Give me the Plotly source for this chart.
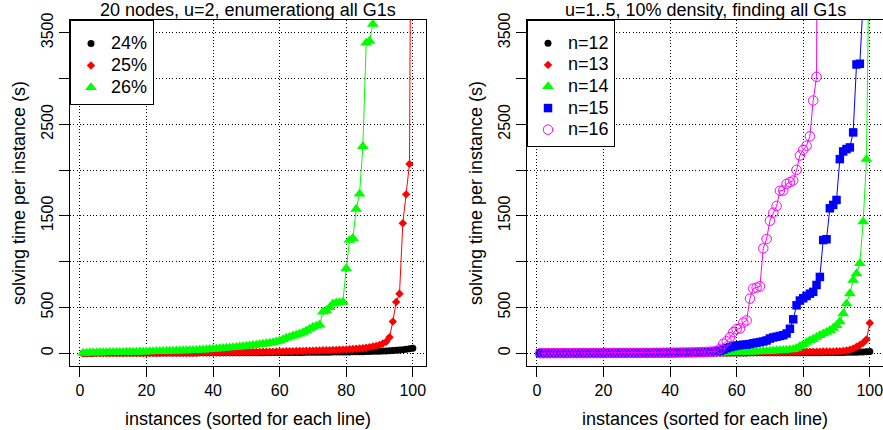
import plotly.graph_objects as go

# ---------------- data ----------------
instances = list(range(1, 101))

# left panel: 20 nodes, u=2
pct24 = [0.4, 0.5, 0.6, 0.6, 0.7, 0.8, 0.8, 0.9, 1.0, 1.0,
         1.1, 1.2, 1.2, 1.3, 1.4, 1.5, 1.5, 1.6, 1.7, 1.8,
         1.9, 2.0, 2.1, 2.2, 2.3, 2.4, 2.5, 2.6, 2.7, 2.8,
         2.9, 3.0, 3.1, 3.2, 3.3, 3.4, 3.5, 3.6, 3.7, 3.8,
         3.9, 4.0, 4.1, 4.2, 4.3, 4.4, 4.5, 4.6, 4.8, 5.0,
         5.2, 5.4, 5.6, 5.8, 6.0, 6.2, 6.4, 6.6, 6.8, 7.0,
         7.2, 7.4, 7.6, 7.8, 8.0, 8.3, 8.6, 8.9, 9.2, 9.5,
         9.8, 10.1, 10.4, 10.8, 11.2, 11.6, 12, 12.5, 13, 13.5,
         14, 14.5, 15, 16, 17, 18, 19, 20, 21, 22,
         23, 25, 27, 29, 31, 34, 38, 43, 48, 55]

pct25 = [0.3, 0.4, 0.5, 0.5, 0.6, 0.7, 0.8, 0.9, 1.0, 1.1,
         1.2, 1.3, 1.4, 1.5, 1.6, 1.7, 1.8, 1.9, 2.0, 2.2,
         2.4, 2.6, 2.8, 3.0, 3.2, 3.4, 3.6, 3.8, 4.0, 4.3,
         4.6, 4.9, 5.2, 5.5, 5.8, 6.1, 6.4, 6.8, 7.2, 7.6,
         8.0, 8.4, 8.8, 9.2, 9.6, 10, 10.5, 11, 11.5, 12,
         12.5, 13, 13.6, 14.2, 14.8, 15.4, 16, 16.7, 17.4, 18,
         19, 20, 21, 22, 23, 24, 25, 26, 27, 28,
         29, 30, 31, 32, 33, 34, 35, 37, 39, 41,
         43, 45, 48, 51, 55, 60, 66, 73, 80, 90,
         105, 125, 175, 345, 560, 650, 1420, 1735, 2068, 9000]

pct26 = [2, 3, 4, 5, 6, 7, 7.5, 8, 9, 10,
         10.5, 11, 11.5, 12, 12.5, 13, 14, 15, 16, 17,
         18, 19, 20, 21, 22, 23, 24, 25, 26, 27,
         28, 29, 30, 31, 33, 35, 37, 39, 42, 45,
         48, 51, 54, 57, 60, 63, 66, 70, 74, 78,
         82, 86, 90, 95, 100, 105, 110, 118, 126, 135,
         150, 165, 178, 190, 200, 212, 225, 245, 265, 285,
         298, 310, 450, 465, 500, 540, 550, 555, 560, 925,
         1235, 1255, 1575, 1740, 2260, 3390, 3410, 3595]

# right panel: u=1..5, 10% density
n12 = [0.1, 0.1, 0.1, 0.1, 0.2, 0.2, 0.2, 0.2, 0.2, 0.3,
       0.3, 0.3, 0.3, 0.3, 0.4, 0.4, 0.4, 0.4, 0.5, 0.5,
       0.5, 0.5, 0.6, 0.6, 0.6, 0.7, 0.7, 0.7, 0.8, 0.8,
       0.8, 0.9, 0.9, 1.0, 1.0, 1.1, 1.1, 1.2, 1.2, 1.3,
       1.3, 1.4, 1.4, 1.5, 1.5, 1.6, 1.7, 1.8, 1.9, 2.0,
       2.1, 2.2, 2.3, 2.4, 2.5, 2.6, 2.7, 2.8, 2.9, 3.0,
       3.1, 3.2, 3.3, 3.4, 3.5, 3.6, 3.7, 3.8, 3.9, 4.0,
       4.1, 4.2, 4.3, 4.4, 4.5, 4.6, 4.7, 4.8, 4.9, 5.0,
       5.2, 5.4, 5.6, 5.8, 6.0, 6.2, 6.5, 6.8, 7.1, 7.5,
       8, 8.5, 9, 9.5, 10, 11, 12, 13, 15, 18]

n13 = [0.2, 0.2, 0.3, 0.3, 0.3, 0.4, 0.4, 0.4, 0.5, 0.5,
       0.6, 0.6, 0.7, 0.7, 0.8, 0.8, 0.9, 0.9, 1.0, 1.0,
       1.1, 1.2, 1.2, 1.3, 1.4, 1.4, 1.5, 1.6, 1.6, 1.7,
       1.8, 1.9, 2.0, 2.1, 2.2, 2.3, 2.4, 2.5, 2.6, 2.7,
       2.8, 2.9, 3.0, 3.2, 3.4, 3.6, 3.8, 4.0, 4.2, 4.4,
       4.6, 4.8, 5.0, 5.2, 5.4, 5.6, 5.8, 6.0, 6.3, 6.6,
       6.9, 7.2, 7.5, 7.8, 8.1, 8.4, 8.7, 9.0, 9.4, 9.8,
       10.2, 10.6, 11, 11.5, 12, 12.5, 13, 13.5, 14, 14.5,
       15, 15.5, 16, 16.5, 17, 17.5, 18, 18.5, 19, 20,
       22, 25, 30, 38, 50, 70, 90, 115, 150, 330]

n14 = [0.3, 0.3, 0.4, 0.4, 0.5, 0.5, 0.6, 0.6, 0.7, 0.7,
       0.8, 0.8, 0.9, 0.9, 1.0, 1.0, 1.1, 1.1, 1.2, 1.2,
       1.3, 1.3, 1.4, 1.4, 1.5, 1.5, 1.6, 1.7, 1.8, 1.9,
       2.0, 2.1, 2.2, 2.3, 2.4, 2.5, 2.6, 2.7, 2.8, 2.9,
       3.0, 3.2, 3.4, 3.6, 3.8, 4.0, 4.2, 4.4, 4.7, 5.0,
       5.3, 5.6, 6.0, 6.5, 7, 7.5, 8, 9, 10, 11,
       12, 13, 14, 15, 16, 17, 18, 20, 22, 24,
       26, 28, 30, 32, 35, 38, 42, 55, 75, 95,
       120, 139, 155, 175, 195, 213, 230, 249, 275, 304,
       345, 432, 541, 651, 797, 870, 980, 1437, 2120, 5000]

n15 = [0.1, 0.2, 0.2, 0.3, 0.3, 0.4, 0.4, 0.5, 0.5, 0.6,
       0.6, 0.7, 0.7, 0.8, 0.8, 0.9, 0.9, 1.0, 1.0, 1.1,
       1.2, 1.3, 1.4, 1.5, 1.6, 1.7, 1.8, 1.9, 2.0, 2.1,
       2.2, 2.3, 2.4, 2.5, 2.7, 2.9, 3.1, 3.3, 3.5, 3.7,
       4.0, 4.3, 4.6, 5.0, 5.5, 6.0, 6.5, 7.0, 8.0, 9.0,
       10, 12, 15, 20, 28, 40, 55, 66, 75, 84,
       88, 92, 95, 100, 108, 115, 121, 128, 139, 160,
       172, 180, 188, 196, 215, 267, 370, 523, 575, 600,
       625, 650, 670, 745, 833, 1236, 1245, 1583, 1620, 1674,
       2120, 2204, 2230, 2248, 2412, 3154, 3162, 3850]

n16 = [0.2, 0.3, 0.3, 0.4, 0.4, 0.5, 0.5, 0.6, 0.6, 0.7,
       0.8, 0.9, 1.0, 1.1, 1.2, 1.3, 1.4, 1.5, 1.6, 1.7,
       1.8, 1.9, 2.0, 2.1, 2.2, 2.3, 2.4, 2.5, 2.6, 2.7,
       2.8, 3.0, 3.2, 3.4, 3.6, 3.8, 4.0, 4.3, 4.6, 5.0,
       5.4, 5.8, 6.2, 6.7, 7.2, 7.8, 8.5, 9.5, 11, 12.5,
       14, 16, 18, 23, 48, 103, 130, 175, 230, 262,
       270, 335, 358, 596, 706, 717, 731, 1145, 1247, 1447,
       1535, 1609, 1775, 1777, 1850, 1868, 1886, 2003, 2160, 2222,
       2266, 2369, 2760, 3019, 12000]

left_names = ["24%", "25%", "26%"]
right_names = ["n=12", "n=13", "n=14", "n=15", "n=16"]

x_ticks = [0, 20, 40, 60, 80, 100]
y_ticks = [0, 500, 1000, 1500, 2000, 2500, 3000, 3500]
y_ticktext = ["0", "500", "", "1500", "", "2500", "", "3500"]

titles = ["20 nodes, u=2, enumerationg all G1s",
          "u=1..5, 10% density, finding all G1s"]
x_title = "instances (sorted for each line)"
y_title = "solving time per instance (s)"

# ---------------- styling ----------------
FONT = "Liberation Sans"
W, H = 883, 430
ML, MR, MT, MB = 70, 0, 20, 64
PW = W - ML - MR
left_dom = [0, 356 / PW]
right_dom = [457 / PW, 1]

styles = [
    dict(color="#000000", symbol="circle", size=7),
    dict(color="#FF0000", symbol="diamond", size=6.5),
    dict(color="#00FF00", symbol="triangle-up", size=10.5),
    dict(color="#0000FF", symbol="square", size=8.5),
    dict(color="#FF00FF", symbol="circle-open", size=9.5),
]


def marker_of(st):
    if st["symbol"].endswith("open"):
        return dict(color=st["color"], symbol=st["symbol"], size=st["size"],
                    line=dict(color=st["color"], width=1))
    return dict(color=st["color"], symbol=st["symbol"], size=st["size"],
                line=dict(width=0))


fig = go.Figure()


def add_panel(series, names, xa, ya, legend_id):
    for i, (vals, name) in enumerate(zip(series, names)):
        st = styles[i]
        fig.add_trace(go.Scatter(
            x=instances[:len(vals)], y=vals, mode="lines+markers",
            line=dict(color=st["color"], width=1),
            marker=marker_of(st), showlegend=False,
            xaxis=xa, yaxis=ya, hoverinfo="skip"))
    for i, name in enumerate(names):
        st = styles[i]
        fig.add_trace(go.Scatter(
            x=[None], y=[None], mode="markers", marker=marker_of(st),
            name="<span style='font-size:18px'>%s</span>" % name,
            showlegend=True, legend=legend_id, xaxis=xa, yaxis=ya))


add_panel([pct24, pct25, pct26], left_names, "x", "y", "legend")
add_panel([n12, n13, n14, n15, n16], right_names, "x2", "y2", "legend2")

axis_common = dict(
    showline=True, linecolor="black", linewidth=1, mirror=True,
    ticks="outside", ticklen=10, tickwidth=1, tickcolor="black",
    showgrid=True, gridcolor="black", gridwidth=1, griddash="1px,2.3px",
    zeroline=False, ticklabeloverflow="allow",
    tickfont=dict(family=FONT, size=16, color="black"),
)

xaxis_common = dict(axis_common, range=[-2.96, 103.96], tickmode="array",
                    tickvals=x_ticks, ticktext=[str(v) for v in x_ticks],
                    title=dict(text=x_title, standoff=14,
                               font=dict(family=FONT, size=18, color="black")))
yaxis_common = dict(axis_common, range=[-140, 3640], tickmode="array",
                    tickvals=y_ticks, ticktext=y_ticktext, tickangle=-90,
                    title=dict(text=y_title, standoff=8,
                               font=dict(family=FONT, size=18, color="black")))

legend_common = dict(xanchor="left", yanchor="top", y=1, bgcolor="white",
                     bordercolor="black", borderwidth=1, traceorder="normal",
                     title=dict(text=" ", font=dict(family=FONT, size=5)))

fig.update_layout(
    width=W, height=H, margin=dict(l=ML, r=MR, t=MT, b=MB, pad=0),
    paper_bgcolor="white", plot_bgcolor="white",
    font=dict(family=FONT, color="black"),
    xaxis=dict(xaxis_common, domain=left_dom, anchor="y"),
    yaxis=dict(yaxis_common, domain=[0, 1], anchor="x"),
    xaxis2=dict(xaxis_common, domain=right_dom, anchor="y2"),
    yaxis2=dict(yaxis_common, domain=[0, 1], anchor="x2"),
    legend=dict(legend_common, x=left_dom[0],
                font=dict(family=FONT, size=14.6, color="black")),
    legend2=dict(legend_common, x=right_dom[0],
                 font=dict(family=FONT, size=14.3, color="black")),
    showlegend=True,
    annotations=[
        dict(text=titles[0], x=(left_dom[0] + left_dom[1]) / 2, y=1,
             xref="paper", yref="paper", xanchor="center", yanchor="bottom",
             yshift=-2, showarrow=False,
             font=dict(family=FONT, size=18, color="black")),
        dict(text=titles[1], x=(right_dom[0] + right_dom[1]) / 2, y=1,
             xref="paper", yref="paper", xanchor="center", yanchor="bottom",
             yshift=-2, showarrow=False,
             font=dict(family=FONT, size=18, color="black")),
    ],
)

fig.write_html("out.html")
